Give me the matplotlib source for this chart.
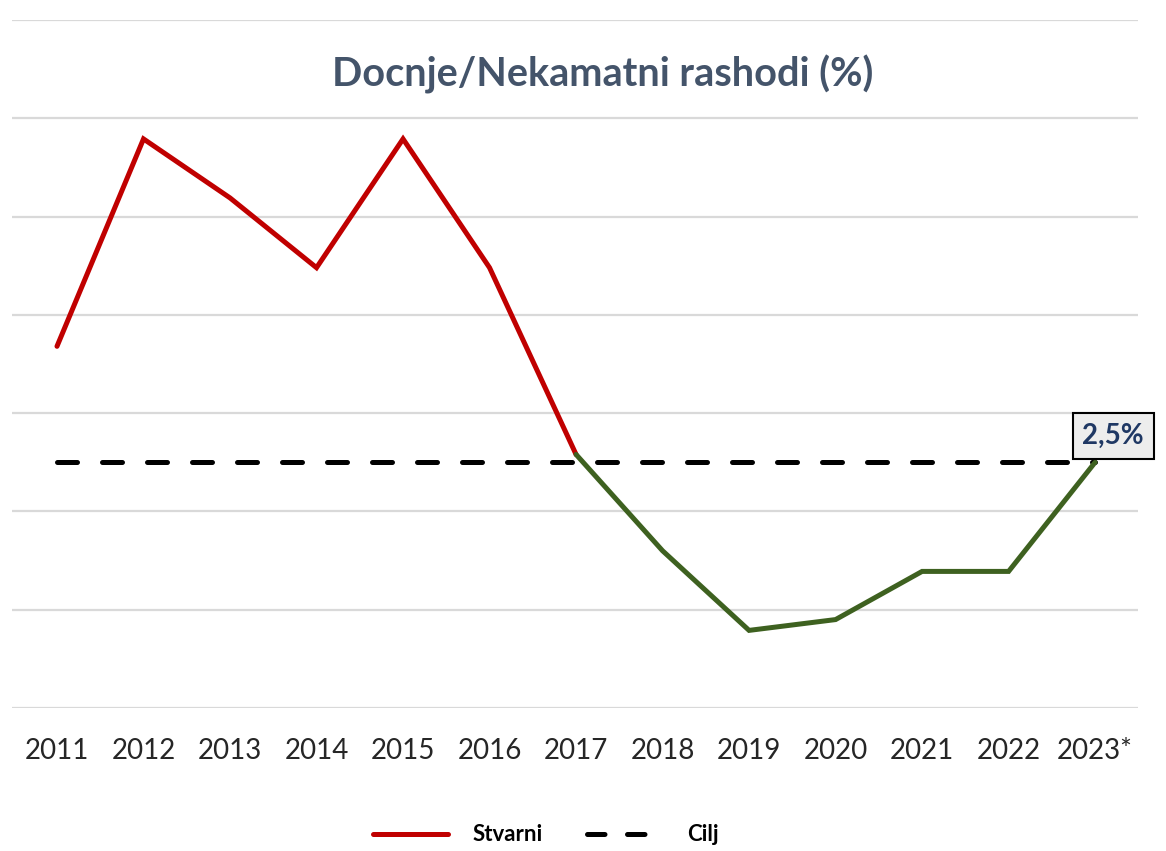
import matplotlib
matplotlib.use('Agg')
import matplotlib.pyplot as plt
from matplotlib.lines import Line2D

plt.rcParams['font.family'] = ['Lato', 'DejaVu Sans']

# Data
years = ['2011', '2012', '2013', '2014', '2015', '2016', '2017',
         '2018', '2019', '2020', '2021', '2022', '2023*']
actual = [3.68, 5.79, 5.19, 4.48, 5.79, 4.48, 2.58,
          1.60, 0.79, 0.90, 1.39, 1.39, 2.50]
target = 2.5
split_year = 6  # index of 2017, where red turns green

red = '#C00000'
green = '#3E6120'

fig = plt.figure(figsize=(11.66, 8.51), dpi=100)
ax = fig.add_axes([0.0103, 0.168, 0.966, 0.8085])

x = list(range(len(years)))

# target line
ax.plot(x, [target] * len(x), color='black', lw=3.6, dashes=(4, 5),
        dash_capstyle='round', zorder=3)

# actual, red then green
ax.plot(x[:split_year + 1], actual[:split_year + 1], color=red, lw=3.6,
        solid_capstyle='round', solid_joinstyle='miter', zorder=4)
ax.plot(x[split_year:], actual[split_year:], color=green, lw=3.6,
        solid_capstyle='round', solid_joinstyle='miter', zorder=4)

# last value label
ax.annotate('2,5%', xy=(x[-1], actual[-1]), xytext=(13, 19),
            textcoords='offset points', ha='center', va='center',
            fontsize=20, fontweight='bold', color='#1F3864',
            bbox=dict(boxstyle='square,pad=0.35', fc='#EDEDED', ec='black', lw=1.5),
            zorder=5)

ax.set_xlim(-0.52, 12.5)
ax.set_ylim(0, 7)
ax.set_yticks(range(0, 8))
ax.yaxis.grid(True, color='#D9D9D9', lw=1.6)
ax.set_axisbelow(True)
ax.tick_params(axis='y', left=False, labelleft=False)
ax.tick_params(axis='x', bottom=False, labelsize=20, labelcolor='#262626', pad=18)
ax.set_xticks(x)
ax.set_xticklabels(years)
for s in ax.spines.values():
    s.set_visible(False)

fig.text(0.517, 0.913, 'Docnje/Nekamatni rashodi (%)', ha='center', va='center',
         fontsize=28.5, fontweight='bold', color='#44546A')

handles = [Line2D([], [], color=red, lw=3.6, solid_capstyle='round'),
           Line2D([], [], color='black', lw=3.6, dashes=(3.5, 4.5), dash_capstyle='round')]
fig.legend(handles, ['Stvarni', 'Cilj'], loc='center', bbox_to_anchor=(0.468, 0.019),
           ncol=2, frameon=False, handlelength=3.4, handletextpad=1.1, columnspacing=2.0,
           prop={'weight': 'bold', 'size': 16})

fig.savefig('out.png', dpi=100)
